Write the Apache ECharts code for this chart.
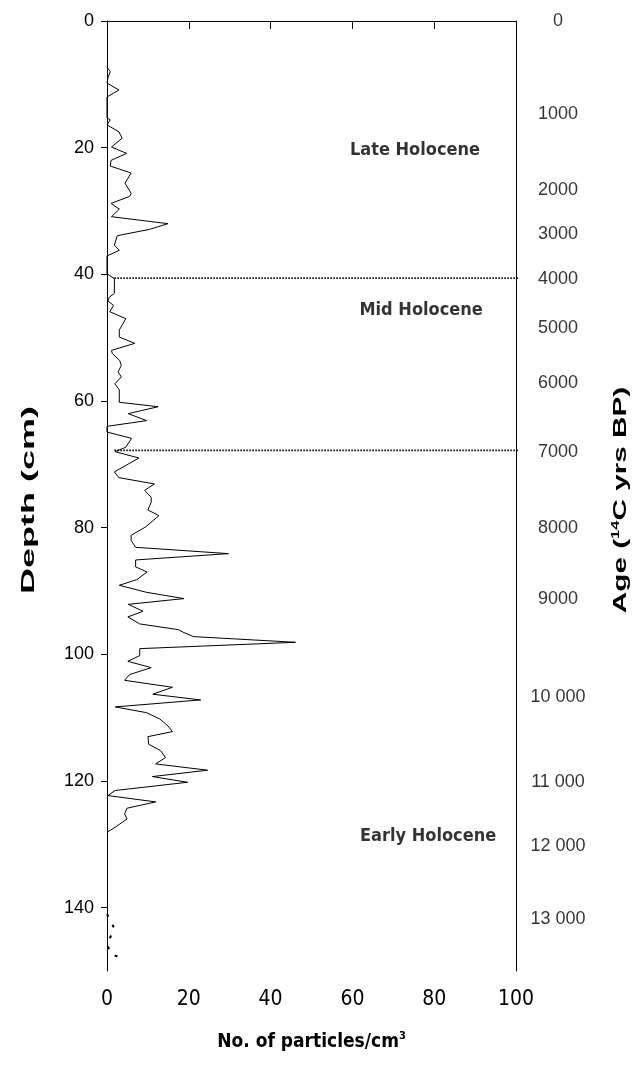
<!DOCTYPE html>
<html>
<head>
<meta charset="utf-8">
<script src="https://cdn.jsdelivr.net/npm/echarts@6/dist/echarts.min.js"></script>
<style>
html,body{margin:0;padding:0;background:#fff;}
#chart{width:642px;height:1076px;}
</style>
</head>
<body>
<div id="chart"></div>
<script>
// ---- data ----
const particles = [0,0.8,0.3,0,2.9,0,0,0.8,0,2.9,3.7,1.1,4.8,1.0,0.8,5.9,4.4,5.9,5.5,1.0,3.0,1.1,1.1,14.9,10.4,2.5,1.8,3.0,0,0,1.8,1.8,0.6,0.2,1.6,0.7,4.6,3.0,3.0,6.8,1.1,1.3,3.1,3.5,2.7,3.5,1.9,3.0,3.0,12.5,5.2,9.7,0,0,0.2,6.0,4.6,2.0,7.8,1.8,2.9,11.6,9.2,10.8,10.8,10.0,12.7,9.4,5.9,5.9,7.0,29.7,7.0,7.0,9.8,7.3,3.0,9.6,18.8,5.2,8.8,5.1,8.0,17.4,18.6,21.1,46.1,8.0,8.0,5.1,10.8,5.5,4.3,16.0,11.2,22.9,2.0,9.6,12.9,14.9,16.0,10.0,10.2,13.1,14.3,11.9,24.6,11.1,19.7,2.0,0.2,11.9,4.9,4.3,4.9,2.0,0];
const depthCm   = [7.3,8.0,8.8,9.8,10.9,12.0,15.3,15.6,16.4,17.5,18.5,19.9,20.9,22.0,22.9,24.0,25.6,27.2,27.7,28.8,29.7,30.9,31.2,32.0,32.9,33.9,35.4,36.2,37.1,39.9,40.7,43.0,43.6,44.2,44.9,45.9,47.0,48.8,49.9,50.9,52.0,52.5,53.6,54.4,55.4,56.2,57.3,58.2,60.2,60.9,62.0,63.1,64.0,64.9,65.2,65.9,67.3,68.0,69.0,71.2,72.1,73.1,74.1,75.2,76.0,77.2,78.1,79.9,81.2,82.0,83.1,84.1,85.1,86.2,87.0,88.2,89.1,90.2,91.2,92.1,93.2,94.1,95.2,96.1,96.5,97.2,98.1,99.1,100.2,101.1,102.1,103.2,104.1,105.2,106.3,107.2,108.3,109.2,110.2,111.3,112.2,113.0,114.2,115.2,116.3,117.3,118.3,119.3,120.2,121.5,122.3,123.3,124.3,125.2,126.0,127.3,128.1];
// uncertain (dotted) fragment at the base of the core
const fragParticles = [0,1.8,0,1.0,4.0];
const fragDepthCm   = [141.0,143.3,145.8,147.3,148.1];
// radiocarbon age scale on the right axis
const ageLabels = ['0','1000','2000','3000','4000','5000','6000','7000','8000','9000','10 000','11 000','12 000','13 000'];
const ageDepthCm = [0,14.7,26.7,33.7,40.8,48.5,57.2,68.0,80.0,91.2,106.8,120.1,130.2,141.8];
// zone boundaries and names
const zoneBoundaryDepthCm = [40.6, 67.8];
const zoneNames = ['Late Holocene','Mid Holocene','Early Holocene'];
const zoneLabelAnchorX = [75.3, 76.8, 78.5];
const zoneLabelAnchorDepth = [20.4, 45.7, 128.8];
// axis ticks
const xTicks = [0,20,40,60,80,100];
const yTicks = [0,20,40,60,80,100,120,140];
const yMax = 150;

const NARROW = 'DejaVu Sans Condensed, Liberation Sans, sans-serif';
const SANS = 'Liberation Sans';

const chart = echarts.init(document.getElementById('chart'), null, {renderer:'canvas'});

const mainLine = particles.map((v,i)=>[v, depthCm[i]]);
const fragLine = fragParticles.map((v,i)=>[v, fragDepthCm[i]]);
const ageData = ageLabels.map((t,i)=>({value:[xTicks[xTicks.length-1], ageDepthCm[i]], name:t}));
const zoneData = zoneNames.map((t,i)=>({value:[zoneLabelAnchorX[i], zoneLabelAnchorDepth[i]], name:t}));
const boundarySeries = zoneBoundaryDepthCm.map(d=>({
  type:'line', data:[[1.8,d],[101.5,d]], symbol:'none', clip:false, silent:true,
  lineStyle:{color:'#000', width:1.6, type:[1.5,1.5]}, z:3
}));

const xStep = xTicks[1]-xTicks[0];
const yStep = yTicks[1]-yTicks[0];

chart.setOption({
  animation:false,
  backgroundColor:'#fff',
  grid:{left:107, right:126, top:21, bottom:105},
  xAxis:[{
    type:'value', min:xTicks[0], max:xTicks[xTicks.length-1], interval:xStep,
    axisLine:{show:true, lineStyle:{color:'#000', width:1}},
    axisTick:{show:true, inside:false, length:8, lineStyle:{color:'#000'}},
    splitLine:{show:false},
    axisLabel:{color:'#000', fontFamily:NARROW, fontSize:21, margin:18},
    name:'{a|No. of particles/cm}{s|3}', nameLocation:'middle', nameGap:60,
    nameTextStyle:{rich:{
      a:{fontFamily:NARROW, fontWeight:'bold', fontSize:19, color:'#000'},
      s:{fontFamily:NARROW, fontWeight:'bold', fontSize:11, color:'#000', padding:[0,0,12,0]}
    }}
  },{
    type:'value', position:'top', min:xTicks[0], max:xTicks[xTicks.length-1],
    axisLine:{show:true, lineStyle:{color:'#000', width:1}},
    axisTick:{show:false}, axisLabel:{show:false}, splitLine:{show:false}
  }],
  yAxis:[{
    type:'value', inverse:true, min:yTicks[0], max:yMax, interval:yStep,
    axisLine:{show:true, lineStyle:{color:'#000', width:1}},
    axisTick:{show:true, inside:false, length:6, lineStyle:{color:'#000'}},
    splitLine:{show:false},
    axisLabel:{color:'#000', fontFamily:SANS, fontSize:18, margin:13, showMaxLabel:false,
      formatter:v=> yTicks.indexOf(v)>=0 ? String(v) : ''}
  },{
    type:'value', inverse:true, min:yTicks[0], max:yMax, position:'right',
    axisLine:{show:true, onZero:false, lineStyle:{color:'#000', width:1}},
    axisTick:{show:false}, axisLabel:{show:false}, splitLine:{show:false}
  }],
  graphic:[
    {type:'text', x:29, y:500, rotation:Math.PI/2, scaleX:2.0, scaleY:1,
      style:{text:'Depth (cm)', fontFamily:SANS, fontWeight:'bold', fontSize:18, fill:'#000', align:'center', verticalAlign:'middle'}},
    {type:'text', x:621, y:500, rotation:Math.PI/2, scaleX:1.65, scaleY:1,
      style:{text:'{a|Age (}{s|14}{a|C yrs BP)}', align:'center', verticalAlign:'middle',
        rich:{
          a:{fontFamily:SANS, fontWeight:'bold', fontSize:18, fill:'#000'},
          s:{fontFamily:SANS, fontWeight:'bold', fontSize:10, fill:'#000', padding:[0,0,9,0]}
        }}}
  ],
  series:[
    {type:'line', data:mainLine, symbol:'none', lineStyle:{color:'#000', width:1}, z:5, silent:true},
    {type:'line', data:fragLine, symbol:'none', lineStyle:{color:'#000', width:2, type:[3,9]}, z:5, silent:true},
    ...boundarySeries,
    {type:'scatter', data:ageData, symbolSize:0, clip:false, silent:true,
      label:{show:true, formatter:p=>p.name, position:'inside', offset:[42,0], align:'center', verticalAlign:'middle',
        color:'#000', fontFamily:SANS, fontSize:18}},
    {type:'scatter', data:zoneData, symbolSize:0, silent:true,
      label:{show:true, formatter:p=>p.name, position:'inside', align:'center', verticalAlign:'middle',
        color:'#000', fontFamily:NARROW, fontWeight:'bold', fontSize:18}}
  ]
});
</script>
</body>
</html>
